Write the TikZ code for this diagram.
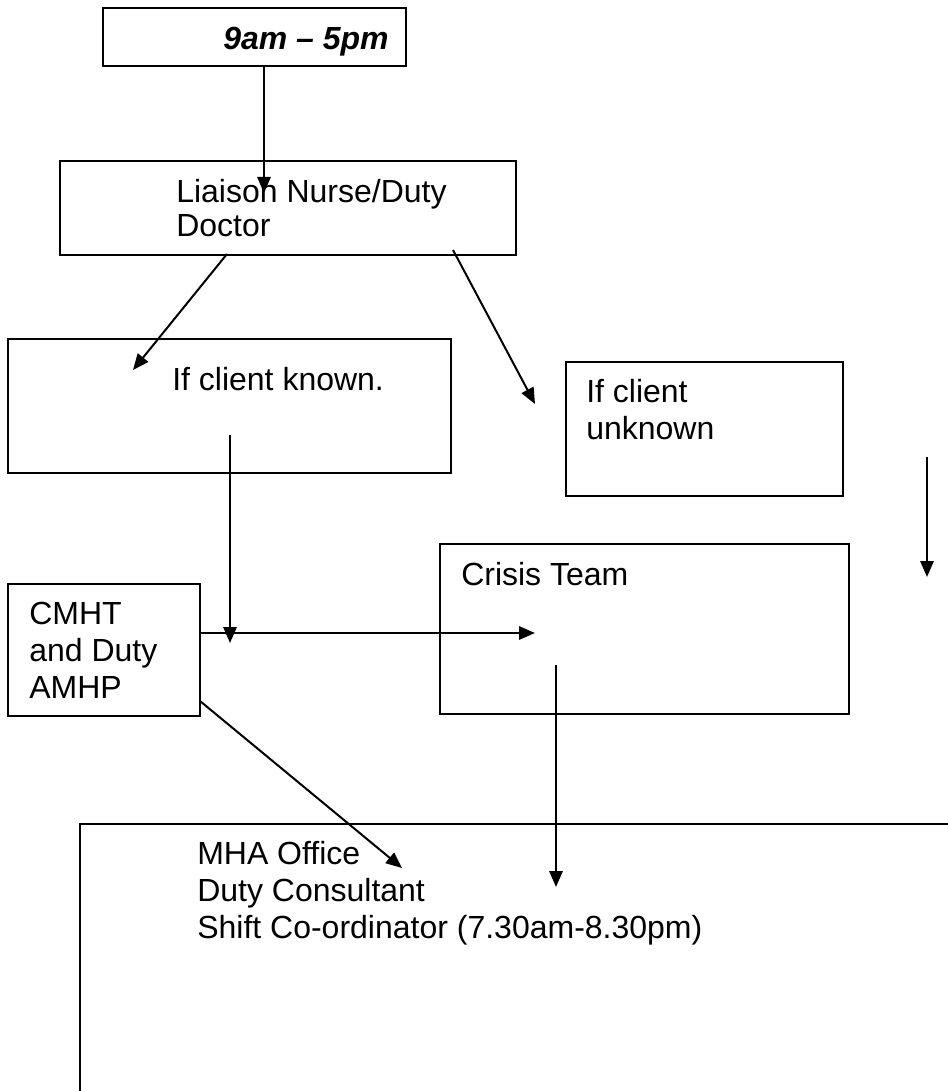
\documentclass[tikz,border=0pt]{standalone}
\usepackage{fontspec}
\setmainfont{Liberation Sans}
\usetikzlibrary{arrows.meta}
\begin{document}
\begin{tikzpicture}[x=0.75pt,y=-0.75pt,
  box/.style={draw, line width=1.5pt, inner sep=0pt, rectangle},
  lbl/.style={anchor=base west, inner sep=0pt, align=left, font=\fontsize{24pt}{27.5pt}\selectfont},
  arr/.style={-{Triangle[length=12pt,width=10pt]}, line width=1.5pt}]
\useasboundingbox (0,0) rectangle (948,1091);
\clip (0,0) rectangle (948,1091);
% boxes
\node[box, minimum width=227.25pt, minimum height=43.5pt] (top) at (254.5,37) {};
\node[box, minimum width=342pt, minimum height=70.5pt] (liaison) at (288,208) {};
\node[box, minimum width=332.25pt, minimum height=100.5pt] (known) at (229.5,406) {};
\node[box, minimum width=207.75pt, minimum height=100.5pt] (unknown) at (704.5,429) {};
\node[box, minimum width=306.75pt, minimum height=127.5pt] (crisis) at (644.5,629) {};
\node[box, minimum width=144pt, minimum height=99pt] (cmht) at (104,650) {};
\node[box, minimum width=690pt, minimum height=244.5pt] (mha) at (540,987) {};
% texts (anchor = baseline of the last line)
\node[lbl, font=\fontsize{24pt}{27.5pt}\selectfont\bfseries\itshape] (topT) at (223,50) {9am – 5pm};
\node[lbl, font=\fontsize{24pt}{25.5pt}\selectfont] (liaisonT) at (176,237) {Liaison Nurse/Duty\\Doctor};
\node[lbl] (knownT) at (172,390) {If client known.};
\node[lbl] (unknownT) at (586,439) {If client\\unknown};
\node[lbl] (crisisT) at (461,585) {Crisis Team};
\node[lbl] (cmhtT) at (29,698) {CMHT\\and Duty\\AMHP};
\node[lbl] (mhaT) at (197,938) {MHA Office\\Duty Consultant\\Shift Co-ordinator (7.30am-8.30pm)};
% connector ends
\coordinate (a1s) at (264,66);  \coordinate (a1e) at (264,193);
\coordinate (a2s) at (227,254); \coordinate (a2e) at (133,370);
\coordinate (a3s) at (453,250); \coordinate (a3e) at (535,404);
\coordinate (a4s) at (230,435); \coordinate (a4e) at (230,643);
\coordinate (a5s) at (200,633); \coordinate (a5e) at (535,633);
\coordinate (a6s) at (556,665); \coordinate (a6e) at (556,887);
\coordinate (a7s) at (927,457); \coordinate (a7e) at (927,577);
\coordinate (a8s) at (200,701); \coordinate (a8e) at (402,868);
\draw[arr] (a1s) -- (a1e);
\draw[arr] (a2s) -- (a2e);
\draw[arr] (a3s) -- (a3e);
\draw[arr] (a4s) -- (a4e);
\draw[arr] (a5s) -- (a5e);
\draw[arr] (a6s) -- (a6e);
\draw[arr] (a7s) -- (a7e);
\draw[arr] (a8s) -- (a8e);
\end{tikzpicture}
\end{document}
